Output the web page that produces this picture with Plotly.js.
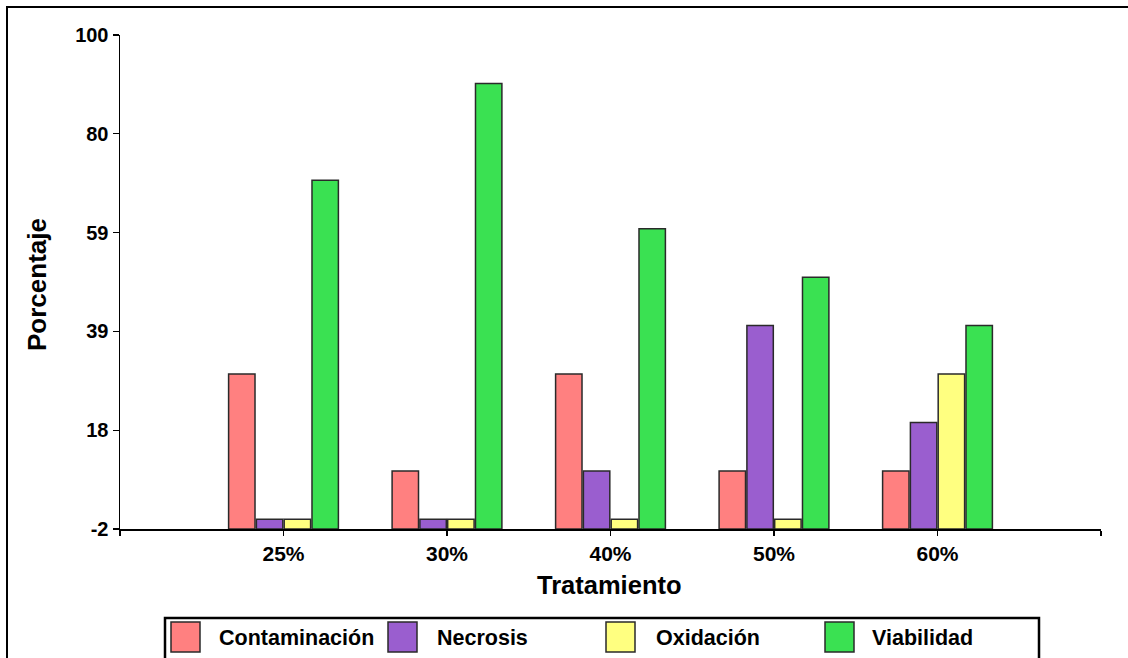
<!DOCTYPE html>
<html>
<head>
<meta charset="utf-8">
<script src="https://cdn.plot.ly/plotly-3.0.1.min.js"></script>
<style>
  html, body { margin: 0; padding: 0; background: #fff; overflow: hidden; }
  #frame { position: absolute; left: 6px; top: 6px; width: 1200px; height: 700px;
           border: 2.5px solid #000; box-sizing: border-box; pointer-events: none; z-index: 5; }
  #chart { position: absolute; left: 0; top: 0; width: 1128px; height: 658px; }
</style>
</head>
<body>
<div id="chart"></div>
<div id="frame"></div>
<script>
// ---- data ----
const categories = ['25%', '30%', '40%', '50%', '60%'];
const contaminacion = [30, 10, 30, 10, 10];
const necrosis      = [0, 0, 10, 40, 20];
const oxidacion     = [0, 0, 0, 0, 30];
const viabilidad    = [70, 90, 60, 50, 40];
const seriesNames   = ['Contaminación', 'Necrosis', 'Oxidación', 'Viabilidad'];
const seriesColors  = ['#FF8080', '#9A5ECF', '#FFFF80', '#3AE152'];
const yTickVals     = [-2, 18.4, 38.8, 59.2, 79.6, 100];
const yTickText     = ['-2', '18', '39', '59', '80', '100'];
const yMin = -2, yMax = 100;
const xTitle = 'Tratamiento';
const yTitle = 'Porcentaje';

// ---- layout helpers ----
const W = 1128, H = 658;
const M = { l: 120, r: 27, t: 35, b: 129 };
const PW = W - M.l - M.r, PH = H - M.t - M.b;
const px = v => (v - M.l) / PW;
const py = v => (M.t + PH - v) / PH;
const FONT = 'Liberation Sans, Arial, Helvetica, sans-serif';

const xPos = categories.map((c, i) => i + 1);
const allSeries = [contaminacion, necrosis, oxidacion, viabilidad];

const traces = allSeries.map((vals, k) => ({
  type: 'bar',
  name: seriesNames[k],
  x: xPos,
  y: vals.map(v => v - yMin),
  base: yMin,
  marker: { color: seriesColors[k], line: { color: '#2a2a2a', width: 1.5 } },
  showlegend: false,
  hoverinfo: 'skip'
}));

// custom legend (big swatches like the original)
const legendSquareX = [171, 388, 606, 825];
const legendTextX   = [217, 435, 654, 870];
const shapes = [
  { type: 'rect', xref: 'paper', yref: 'paper',
    x0: px(165), x1: px(1039), y0: py(618), y1: py(680),
    line: { color: '#000', width: 2.5 }, fillcolor: 'rgba(0,0,0,0)' }
];
const annotations = [];
seriesNames.forEach((n, k) => {
  shapes.push({ type: 'rect', xref: 'paper', yref: 'paper',
    x0: px(legendSquareX[k]), x1: px(legendSquareX[k] + 29),
    y0: py(622), y1: py(652),
    fillcolor: seriesColors[k], line: { color: '#2a2a2a', width: 1.5 } });
  annotations.push({ xref: 'paper', yref: 'paper', x: px(legendTextX[k]), y: py(638),
    xanchor: 'left', yanchor: 'middle', showarrow: false, text: n,
    font: { family: FONT, size: 21.5, color: '#000', weight: 'bold' } });
});
annotations.push({ xref: 'paper', yref: 'paper', x: px(609), y: py(585),
  xanchor: 'center', yanchor: 'middle', showarrow: false, text: xTitle,
  font: { family: FONT, size: 25.5, color: '#000', weight: 'bold' } });
annotations.push({ xref: 'paper', yref: 'paper', x: px(37), y: py(285),
  xanchor: 'center', yanchor: 'middle', showarrow: false, text: yTitle, textangle: -90,
  font: { family: FONT, size: 26, color: '#000', weight: 'bold' } });

const layout = {
  width: W, height: H,
  margin: M,
  paper_bgcolor: '#fff', plot_bgcolor: '#fff',
  barmode: 'group', bargap: 0.32, bargroupgap: 0.05,
  showlegend: false,
  font: { family: FONT, color: '#000' },
  xaxis: {
    range: [0, categories.length + 1],
    tickmode: 'array',
    tickvals: [0].concat(xPos, [categories.length + 1]),
    ticktext: [''].concat(categories, ['']),
    ticks: 'outside', ticklen: 5, tickwidth: 1.2, tickcolor: '#000',
    showline: true, linecolor: '#000', linewidth: 1.5,
    showgrid: false, zeroline: false,
    tickfont: { family: FONT, size: 21, color: '#000', weight: 'bold' }
  },
  yaxis: {
    range: [yMin, yMax],
    tickmode: 'array', tickvals: yTickVals, ticktext: yTickText,
    ticks: 'outside', ticklen: 6, tickwidth: 1.2, tickcolor: '#000',
    showline: true, linecolor: '#000', linewidth: 1.5,
    showgrid: false, zeroline: false,
    tickfont: { family: FONT, size: 20, color: '#000', weight: 'bold' }
  },
  shapes: shapes,
  annotations: annotations
};

Plotly.newPlot('chart', traces, layout, { staticPlot: true, displayModeBar: false });
</script>
</body>
</html>
